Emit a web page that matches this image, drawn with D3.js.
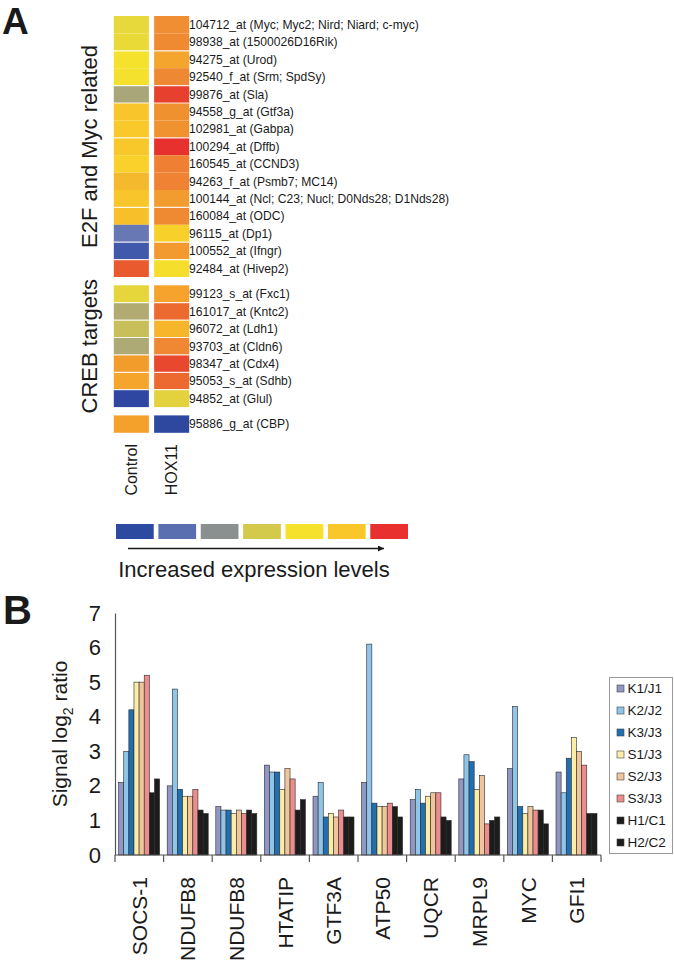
<!DOCTYPE html>
<html><head><meta charset="utf-8">
<script src="https://cdn.jsdelivr.net/npm/d3@7"></script>
<style>body{margin:0;background:#fff}svg{display:block}text{font-family:"Liberation Sans",Arial,sans-serif;fill:#1a1a1a}</style>
</head><body>
<script>
// ---------- Panel A data ----------
const e2fProbes = ["104712_at (Myc; Myc2; Nird; Niard; c-myc)","98938_at (1500026D16Rik)","94275_at (Urod)","92540_f_at (Srm; SpdSy)","99876_at (Sla)","94558_g_at (Gtf3a)","102981_at (Gabpa)","100294_at (Dffb)","160545_at (CCND3)","94263_f_at (Psmb7; MC14)","100144_at (Ncl; C23; Nucl; D0Nds28; D1Nds28)","160084_at (ODC)","96115_at (Dp1)","100552_at (Ifngr)","92484_at (Hivep2)"];
const e2fControl = ["#e7d83b","#e9da38","#f4e22d","#f4e12e","#a9a67a","#f8c62a","#f9c82a","#f8c72a","#f9d12a","#f5b92d","#f8c52a","#f7c02b","#6878b4","#4059ab","#ea5a2f"];
const e2fHox11 = ["#f08e33","#ef8a33","#f4a52e","#ef8833","#e8402e","#f0912f","#f0922f","#e6312e","#ef7f33","#ef8233","#f29c30","#ef8a33","#f8d02a","#f29a30","#f5df2c"];
const e2fBreaks = [2,4,5,7,11,13,14];
const crebProbes = ["99123_s_at (Fxc1)","161017_at (Kntc2)","96072_at (Ldh1)","93703_at (Cldn6)","98347_at (Cdx4)","95053_s_at (Sdhb)","94852_at (Glul)"];
const crebControl = ["#e6d63c","#b1ab72","#c8bf5a","#aeaa76","#f29c2c","#f5a42c","#2f47a0"];
const crebHox11 = ["#f5a32c","#ec6a30","#f7b52b","#ef8733","#e8492e","#ec6a30","#e3d23e"];
const cbpProbes = ["95886_g_at (CBP)"];
const cbpControl = ["#f4a12c"];
const cbpHox11 = ["#2e48a0"];
const columnLabels = ["Control","HOX11"];
const sectionLabels = ["E2F and Myc related","CREB targets"];
const scaleColors = ["#2b4aa0","#5a6fb0","#8a9090","#d3c94a","#f6e12c","#fac72a","#e8302e"];
const scaleLabel = "Increased expression levels";

// ---------- Panel B data ----------
const genes = ["SOCS-1","NDUFB8","NDUFB8 ","HTATIP","GTF3A","ATP50","UQCR","MRPL9","MYC","GFI1"];
const seriesNames = ["K1/J1","K2/J2","K3/J3","S1/J3","S2/J3","S3/J3","H1/C1","H2/C2"];
const seriesColors = ["#9197c4","#8ec5e9","#1f6fb2","#fbeda6","#f1c59c","#ec8c8c","#1c1c1c","#1c1c1c"];
const K1 = [2.1,2.0,1.4,2.6,1.7,2.1,1.6,2.2,2.5,2.4];
const K2 = [3.0,4.8,1.3,2.4,2.1,6.1,1.9,2.9,4.3,1.8];
const K3 = [4.2,1.9,1.3,2.4,1.1,1.5,1.5,2.7,1.4,2.8];
const S1 = [5.0,1.7,1.2,1.9,1.2,1.4,1.7,1.9,1.2,3.4];
const S2 = [5.0,1.7,1.3,2.5,1.1,1.4,1.8,2.3,1.4,3.0];
const S3 = [5.2,1.9,1.2,2.2,1.3,1.5,1.8,0.9,1.3,2.6];
const H1 = [1.8,1.3,1.3,1.3,1.1,1.4,1.1,1.0,1.3,1.2];
const H2 = [2.2,1.2,1.2,1.6,1.1,1.1,1.0,1.1,0.9,1.2];
const yTicks = [0,1,2,3,4,5,6,7];
const yLabel = "Signal log";

const W = 674, H = 964;
const svg = d3.select("body").append("svg").attr("width", W).attr("height", H);
const font = '"Liberation Sans",Arial,sans-serif';

// Panel letters
svg.append("text").attr("x", 2).attr("y", 34).attr("font-size", 37).attr("font-weight", "bold").text("A");
svg.append("text").attr("x", 3).attr("y", 624).attr("font-size", 40).attr("font-weight", "bold").text("B");

// ---------- Heatmap ----------
const groups = [
  {probes: e2fProbes, c: e2fControl, h: e2fHox11, label: sectionLabels[0], breaks: e2fBreaks},
  {probes: crebProbes, c: crebControl, h: crebHox11, label: sectionLabels[1], breaks: d3.range(1, crebProbes.length)},
  {probes: cbpProbes, c: cbpControl, h: cbpHox11, label: null, breaks: []}
];
const rowH = 17.4, gap = 8.3;
const colX = d3.scaleBand().domain(columnLabels).range([113, 190]).paddingInner(0.13).paddingOuter(0.02);
const hm = svg.append("g");
let yCur = 16;
groups.forEach(g => {
  const y = d3.scaleBand().domain(g.probes).range([yCur, yCur + rowH * g.probes.length]);
  const gg = hm.append("g");
  g.probes.forEach((p, i) => {
    [[columnLabels[0], g.c[i]], [columnLabels[1], g.h[i]]].forEach(([col, fill]) => {
      gg.append("rect").attr("x", colX(col)).attr("y", y(p)).attr("width", colX.bandwidth())
        .attr("height", y.bandwidth()).attr("fill", fill);
    });
    gg.append("text").attr("x", 189).attr("y", y(p) + y.bandwidth() / 2).attr("dy", "0.36em")
      .attr("font-size", 12.1).attr("fill", "#333").text(p);
  });
  g.breaks.forEach(b => {
    const yy = y(g.probes[b]);
    columnLabels.forEach(col => {
      gg.append("line").attr("x1", colX(col)).attr("x2", colX(col) + colX.bandwidth())
        .attr("y1", yy).attr("y2", yy).attr("stroke", "#fff").attr("stroke-width", 1.2).attr("stroke-opacity", 0.85);
    });
  });
  if (g.label) {
    const cy = (yCur + yCur + rowH * g.probes.length) / 2;
    svg.append("text").attr("transform", `translate(97,${cy}) rotate(-90)`).attr("text-anchor", "middle")
      .attr("font-size", 22).text(g.label);
  }
  yCur += rowH * g.probes.length + gap;
});
columnLabels.forEach(c => {
  svg.append("text").attr("transform", `translate(${colX(c) + colX.bandwidth() / 2},444) rotate(-90)`)
    .attr("text-anchor", "end").attr("dy", "0.36em").attr("font-size", 16).text(c);
});

// Color scale legend
const sx = d3.scaleBand().domain(d3.range(scaleColors.length)).range([116, 408]).paddingInner(0.11).paddingOuter(0);
svg.append("g").selectAll("rect").data(scaleColors).join("rect")
  .attr("x", (d, i) => sx(i)).attr("y", 524).attr("width", sx.bandwidth()).attr("height", 15).attr("fill", d => d);
svg.append("defs").append("marker").attr("id", "ah").attr("viewBox", "0 0 10 10").attr("refX", 10).attr("refY", 5)
  .attr("markerWidth", 10).attr("markerHeight", 6).attr("orient", "auto").attr("markerUnits", "userSpaceOnUse")
  .append("path").attr("d", "M0,0 L10,5 L0,10 Z").attr("fill", "#1a1a1a");
svg.append("line").attr("x1", 128).attr("x2", 384).attr("y1", 548.5).attr("y2", 548.5)
  .attr("stroke", "#1a1a1a").attr("stroke-width", 1.6).attr("marker-end", "url(#ah)");
svg.append("text").attr("x", 254).attr("y", 577).attr("text-anchor", "middle").attr("font-size", 22).text(scaleLabel);

// ---------- Bar chart ----------
const data = genes.map((g, i) => ({gene: g, vals: [K1[i], K2[i], K3[i], S1[i], S2[i], S3[i], H1[i], H2[i]]}));
const x0 = d3.scaleBand().domain(genes).range([115, 601]).padding(0);
const x1 = d3.scaleBand().domain(seriesNames).range([3.6, x0.bandwidth() - 4]).padding(0);
const y = d3.scaleLinear().domain([0, 7]).range([855, 613]);

const bars = svg.append("g");
data.forEach(d => {
  bars.append("g").attr("transform", `translate(${x0(d.gene)},0)`).selectAll("rect")
    .data(d.vals.map((v, k) => ({v, s: seriesNames[k], c: seriesColors[k]}))).join("rect")
    .attr("x", e => x1(e.s)).attr("y", e => y(e.v)).attr("width", x1.bandwidth())
    .attr("height", e => y(0) - y(e.v)).attr("fill", e => e.c)
    .attr("stroke", "#2a2a2a").attr("stroke-width", 0.6);
});

// Y axis
const yAxis = svg.append("g").attr("transform", "translate(115,0)")
  .call(d3.axisLeft(y).tickValues(yTicks).tickSize(0).tickPadding(14).tickFormat(d3.format("d")));
yAxis.select(".domain").attr("stroke", "#555").attr("stroke-width", 1.2);
yAxis.selectAll("text").attr("font-size", 22).attr("font-family", font).attr("fill", "#1a1a1a");

// X axis: ticks at group boundaries
const xg = svg.append("g");
xg.append("line").attr("x1", 115).attr("x2", 601).attr("y1", 855).attr("y2", 855).attr("stroke", "#555").attr("stroke-width", 1.2);
const bounds = genes.map(g => x0(g)).concat([x0(genes[genes.length - 1]) + x0.bandwidth()]);
xg.selectAll("line.t").data(bounds).join("line").attr("class", "t")
  .attr("x1", d => d).attr("x2", d => d).attr("y1", 855).attr("y2", 862).attr("stroke", "#555").attr("stroke-width", 1.2);
xg.selectAll("text").data(genes).join("text")
  .attr("transform", d => `translate(${x0(d) + x0.bandwidth() / 2},877) rotate(-90)`)
  .attr("text-anchor", "end").attr("dy", "0.36em").attr("font-size", 21).text(d => d.trim());

// Y label
const yl = svg.append("text").attr("transform", "translate(67,734) rotate(-90)").attr("text-anchor", "middle").attr("font-size", 21);
yl.append("tspan").text(yLabel);
yl.append("tspan").attr("font-size", 14).attr("dy", 6).text("2");
yl.append("tspan").attr("dy", -6).text(" ratio");

// Legend
const lg = svg.append("g");
lg.append("rect").attr("x", 609.5).attr("y", 677.5).attr("width", 63).attr("height", 176).attr("fill", "#fff").attr("stroke", "#999");
const ly = d3.scalePoint().domain(seriesNames).range([688.5, 842.5]);
seriesNames.forEach((s, k) => {
  lg.append("rect").attr("x", 617).attr("y", ly(s) - 3.5).attr("width", 7).attr("height", 7)
    .attr("fill", seriesColors[k]).attr("stroke", "#444").attr("stroke-width", 0.6);
  lg.append("text").attr("x", 627.5).attr("y", ly(s)).attr("dy", "0.36em").attr("font-size", 13.5).attr("fill", "#333").text(s);
});
</script>
</body></html>
